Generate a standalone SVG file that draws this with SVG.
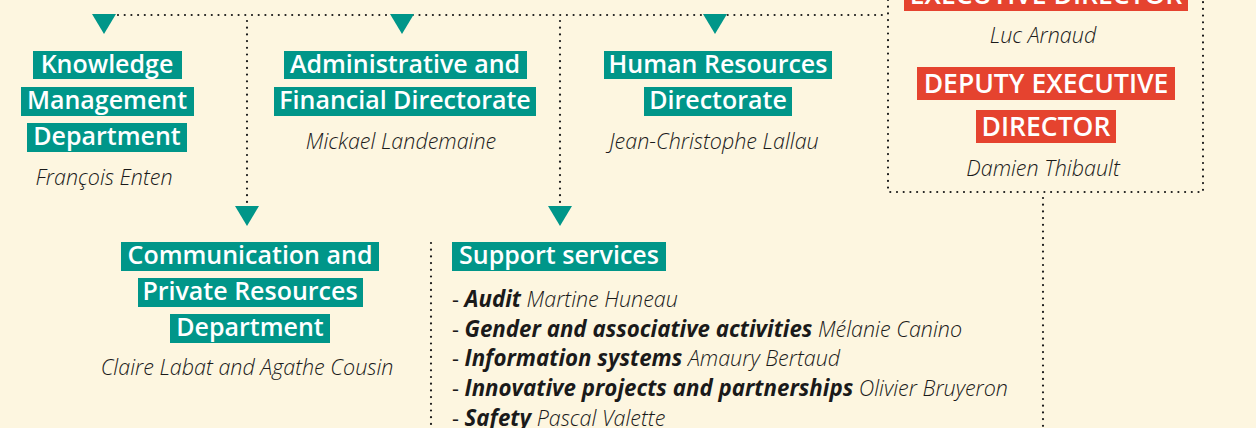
<svg xmlns="http://www.w3.org/2000/svg" width="1256" height="428" viewBox="0 0 1256 428">
<style>
.dot{fill:none;stroke:#1a1a1a;stroke-width:2.2;stroke-linecap:round;stroke-dasharray:0 6.7}
.tri{fill:#009689}
.tb{fill:#009689}
.rb{fill:#e5432f}
.lab{font-family:"Open Sans","Liberation Sans",sans-serif;font-weight:600;font-size:25px;fill:#fff;text-anchor:middle}
.rlab{font-family:"Open Sans","Liberation Sans",sans-serif;font-weight:600;font-size:26.5px;fill:#fff;text-anchor:middle}
.nm{font-family:"Open Sans","Liberation Sans",sans-serif;font-weight:300;font-style:italic;font-size:21.5px;fill:#1a1a1a;text-anchor:middle}
.li{font-family:"Open Sans","Liberation Sans",sans-serif;font-size:21.5px;fill:#1a1a1a}
.b{font-weight:700;font-style:italic;font-size:22.3px}
.n{font-weight:300;font-style:italic}
</style>
<rect width="1256" height="428" fill="#fdf6e0"/>
<g id="connectors">
<path class="dot" d="M118,15 H886"/>
<path class="dot" d="M247,21 V203"/>
<path class="dot" d="M560,21 V203"/>
<path class="dot" d="M1043,198 V428"/>
<path class="dot" d="M431,243 V428"/>
<polygon class="tri" points="92,14 116,14 104,34"/>
<polygon class="tri" points="390,14 414,14 402,34"/>
<polygon class="tri" points="703,14 727,14 715,34"/>
<polygon class="tri" points="235,206 259,206 247,226"/>
<polygon class="tri" points="548,206 572,206 560,226"/>
</g>
<g id="executive">
<path class="dot" d="M888,0 V192 H1203 V0"/>
<rect class="rb" x="904" y="-22" width="284" height="33"/>
<text class="rlab" x="1046" y="4">EXECUTIVE DIRECTOR</text>
<text class="nm" x="1043" y="43">Luc Arnaud</text>
<rect class="rb" x="917" y="67" width="258" height="33"/>
<text class="rlab" x="1046" y="93">DEPUTY EXECUTIVE</text>
<rect class="rb" x="976" y="110" width="140" height="33"/>
<text class="rlab" x="1046" y="136">DIRECTOR</text>
<text class="nm" x="1043" y="176">Damien Thibault</text>
</g>
<g id="knowledge">
<rect class="tb" x="33" y="51" width="149" height="28"/>
<text class="lab" x="107" y="73">Knowledge</text>
<rect class="tb" x="21" y="87" width="173" height="29"/>
<text class="lab" x="107" y="109">Management</text>
<rect class="tb" x="27" y="123" width="160" height="29"/>
<text class="lab" x="107" y="145">Department</text>
<text class="nm" x="104" y="185">François Enten</text>
</g>
<g id="admin">
<rect class="tb" x="284" y="51" width="243" height="28"/>
<text class="lab" x="405" y="73">Administrative and</text>
<rect class="tb" x="274" y="87" width="262" height="29"/>
<text class="lab" x="405" y="109">Financial Directorate</text>
<text class="nm" x="401" y="149">Mickael Landemaine</text>
</g>
<g id="hr">
<rect class="tb" x="604" y="51" width="228" height="28"/>
<text class="lab" x="718" y="73">Human Resources</text>
<rect class="tb" x="644" y="87" width="148" height="29"/>
<text class="lab" x="718" y="109">Directorate</text>
<text class="nm" x="714" y="149">Jean-Christophe Lallau</text>
</g>
<g id="communication">
<rect class="tb" x="121" y="242" width="258" height="29"/>
<text class="lab" x="250" y="264">Communication and</text>
<rect class="tb" x="138" y="278" width="225" height="29"/>
<text class="lab" x="250" y="300">Private Resources</text>
<rect class="tb" x="170" y="314" width="160" height="29"/>
<text class="lab" x="250" y="336">Department</text>
<text class="nm" x="247" y="375">Claire Labat and Agathe Cousin</text>
</g>
<g id="support">
<rect class="tb" x="452" y="242" width="214" height="29"/>
<text class="lab" x="559" y="264">Support services</text>
<text class="li" x="452" y="307">- <tspan class="b">Audit</tspan> <tspan class="n">Martine Huneau</tspan></text>
<text class="li" x="452" y="337">- <tspan class="b">Gender and associative activities</tspan> <tspan class="n">Mélanie Canino</tspan></text>
<text class="li" x="452" y="366">- <tspan class="b">Information systems</tspan> <tspan class="n">Amaury Bertaud</tspan></text>
<text class="li" x="452" y="396">- <tspan class="b">Innovative projects and partnerships</tspan> <tspan class="n">Olivier Bruyeron</tspan></text>
<text class="li" x="452" y="426">- <tspan class="b">Safety</tspan> <tspan class="n">Pascal Valette</tspan></text>
</g>
</svg>
